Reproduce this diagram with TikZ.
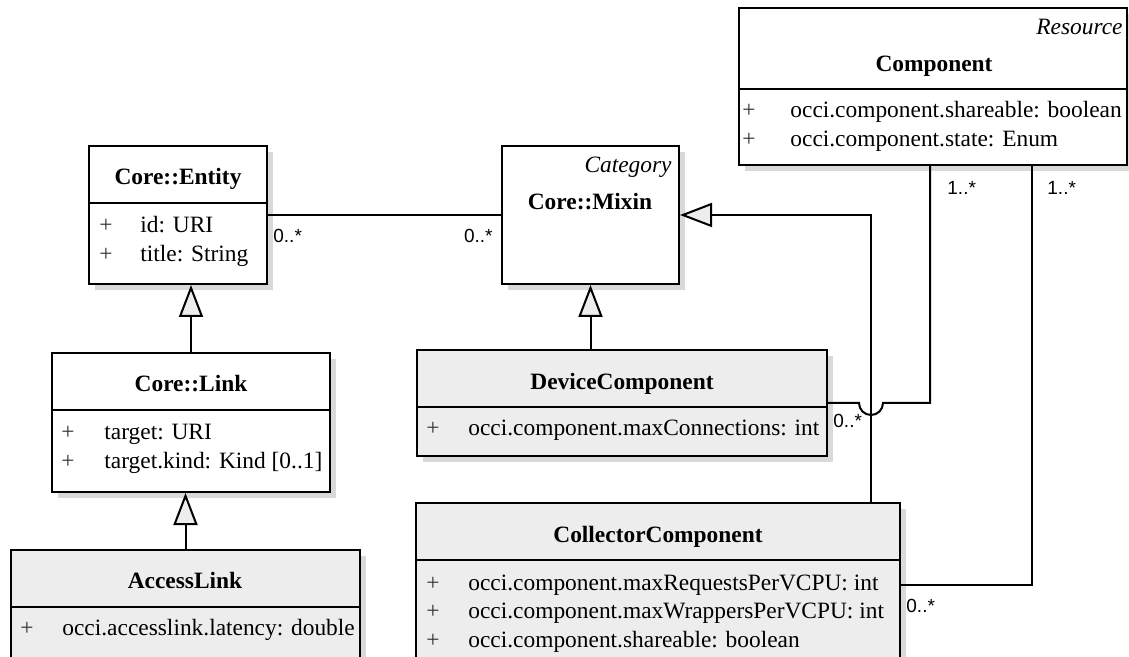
\documentclass[tikz,border=0pt]{standalone}
\usepackage{fontspec}
\setmainfont{Liberation Serif}
\newfontfamily\multfont{Liberation Sans}
\usetikzlibrary{arrows.meta,fit,shadows}

\tikzset{
  classbox/.style={draw, line width=1pt, inner sep=0pt, fill=white,
    drop shadow={shadow xshift=3pt, shadow yshift=-3pt, fill=black!15, opacity=1}},
  leafbox/.style={classbox, fill=black!7},
  classname/.style={font=\fontsize{11.7}{14}\selectfont\bfseries, anchor=base, inner sep=0pt},
  stereo/.style={font=\fontsize{11.7}{14}\selectfont\itshape, anchor=base east, inner sep=0pt},
  attr/.style={font=\fontsize{11.7}{14}\selectfont, anchor=base west, inner sep=0pt},
  vis/.style={font=\fontsize{11.7}{14}\selectfont, text=black!80, anchor=base, inner sep=0pt},
  mult/.style={font=\multfont\fontsize{9.5}{11}\selectfont, anchor=base west, inner sep=0pt},
  assoc/.style={line width=1pt},
  inherit/.style={line width=1pt, -{Triangle[length=16pt, width=12pt, fill=black!7]}}
}

\begin{document}
\begin{tikzpicture}[x=0.5pt, y=-0.5pt]

\useasboundingbox (0,0) rectangle (1129,657);
\clip (0,0) rectangle (1129,657);

% Component
\node[classbox, fit={(739,8) (1127,165)}] (component) {};
\draw[line width=1pt] (739,89) -- (1127,89);
\node[stereo] (compstereo) at (1123,35) {Resource};
\node[classname] (compname) at (934,72) {Component};
\node[vis] (compvis1) at (749,118) {+};
\node[attr] (compattr1) at (790,118) {occi.component.shareable: boolean};
\node[vis] (compvis2) at (749,147) {+};
\node[attr] (compattr2) at (790,147) {occi.component.state: Enum};

% Core::Entity
\node[classbox, fit={(89,146) (267,284)}] (entity) {};
\draw[line width=1pt] (89,203) -- (267,203);
\node[classname] (entityname) at (178,185) {Core::Entity};
\node[vis] (entityvis1) at (106,233) {+};
\node[attr] (entityattr1) at (140,233) {id: URI};
\node[vis] (entityvis2) at (106,262) {+};
\node[attr] (entityattr2) at (140,262) {title: String};

% Core::Mixin
\node[classbox, fit={(502,146) (679,284)}] (mixin) {};
\node[stereo] (mixinstereo) at (672,173) {Category};
\node[classname] (mixinname) at (590,210) {Core::Mixin};

% Core::Link
\node[classbox, fit={(52,353) (330,492)}] (link) {};
\draw[line width=1pt] (52,410) -- (330,410);
\node[classname] (linkname) at (191,392) {Core::Link};
\node[vis] (linkvis1) at (68,439) {+};
\node[attr] (linkattr1) at (104,439) {target: URI};
\node[vis] (linkvis2) at (68,468) {+};
\node[attr] (linkattr2) at (104,468) {target.kind: Kind [0..1]};

% AccessLink
\node[leafbox, fit={(11,550) (360,667)}] (accesslink) {};
\draw[line width=1pt] (11,607) -- (360,607);
\node[classname] (accessname) at (185,588) {AccessLink};
\node[vis] (accessvis1) at (27,635) {+};
\node[attr] (accessattr1) at (62,635) {occi.accesslink.latency: double};

% DeviceComponent
\node[leafbox, fit={(417,350) (827,456)}] (device) {};
\draw[line width=1pt] (417,407) -- (827,407);
\node[classname] (devicename) at (622,389) {DeviceComponent};
\node[vis] (devicevis1) at (433,436) {+};
\node[attr] (deviceattr1) at (468,436) {occi.component.maxConnections: int};

% CollectorComponent
\node[leafbox, fit={(416,503) (900,667)}] (collector) {};
\draw[line width=1pt] (416,560) -- (900,560);
\node[classname] (collectorname) at (658,542) {CollectorComponent};
\node[vis] (collvis1) at (433,590) {+};
\node[attr] (collattr1) at (468,590) {occi.component.maxRequestsPerVCPU: int};
\node[vis] (collvis2) at (433,618) {+};
\node[attr] (collattr2) at (468,618) {occi.component.maxWrappersPerVCPU: int};
\node[vis] (collvis3) at (433,647) {+};
\node[attr] (collattr3) at (468,647) {occi.component.shareable: boolean};

% generalisations
\draw[inherit] (link.north) -- (link.north |- entity.south);
\draw[inherit] (accesslink.north) -- (accesslink.north |- link.south);
\draw[inherit] (device.north -| mixin.south) -- (mixin.south);

\coordinate (hop) at (871,403);
\draw[inherit] (collector.north -| hop) |- (mixin.east);

% associations
\draw[assoc] (entity.east) -- (mixin.west);
\draw[assoc] (device.east) -- ([xshift=-6pt]hop)
  arc[start angle=180, end angle=0, radius=12] -| (component.south -| 930,0);
\draw[assoc] (collector.east) -| (component.south -| 1032,0);

% multiplicities
\node[mult] (multentity) at (273,243) {0..*};
\node[mult, anchor=base east] (multmixin) at (493,243) {0..*};
\node[mult] (multdevice) at (833,427) {0..*};
\node[mult] (multcollector) at (906,612) {0..*};
\node[mult] (multcomp1) at (947,195) {1..*};
\node[mult] (multcomp2) at (1047,195) {1..*};

\end{tikzpicture}
\end{document}
